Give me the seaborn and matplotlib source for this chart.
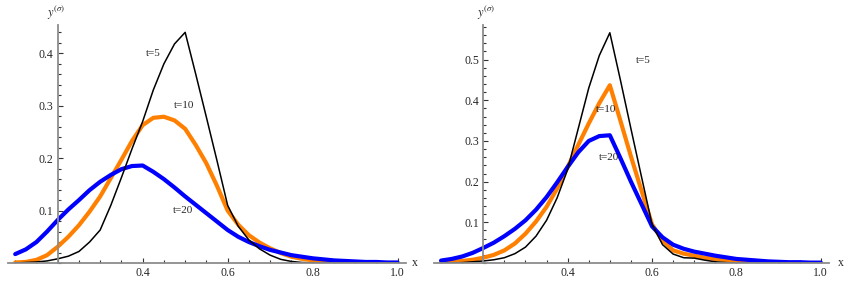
import numpy as np
import pandas as pd
import seaborn as sns
from matplotlib import pyplot as plt
from matplotlib.ticker import FixedLocator, MultipleLocator

# x grid shared by every curve (step 0.025)
x_vals = [0.100, 0.125, 0.150, 0.175, 0.200, 0.225, 0.250, 0.275, 0.300, 0.325,
          0.350, 0.375, 0.400, 0.425, 0.450, 0.475, 0.500, 0.525, 0.550, 0.575,
          0.600, 0.625, 0.650, 0.675, 0.700, 0.725, 0.750, 0.775, 0.800, 0.825,
          0.850, 0.875, 0.900, 0.925, 0.950, 0.975, 1.000]

# left panel
left_t5 = [0.000, 0.001, 0.002, 0.004, 0.008, 0.013, 0.022, 0.040, 0.063, 0.110,
           0.163, 0.218, 0.270, 0.330, 0.380, 0.418, 0.440, 0.360, 0.278, 0.195,
           0.110, 0.070, 0.044, 0.027, 0.015, 0.007, 0.003, 0.001, 0.000, 0.000,
           0.000, 0.000, 0.000, 0.000, 0.000, 0.000, 0.000]
left_t10 = [0.001, 0.002, 0.006, 0.015, 0.031, 0.050, 0.072, 0.098, 0.127, 0.162,
            0.197, 0.233, 0.263, 0.277, 0.279, 0.272, 0.256, 0.225, 0.190, 0.147,
            0.100, 0.073, 0.053, 0.039, 0.028, 0.019, 0.012, 0.008, 0.005, 0.003,
            0.002, 0.001, 0.001, 0.000, 0.000, 0.000, 0.000]
left_t20 = [0.017, 0.026, 0.040, 0.060, 0.082, 0.102, 0.120, 0.139, 0.155, 0.168,
            0.179, 0.185, 0.186, 0.174, 0.160, 0.144, 0.127, 0.111, 0.095, 0.079,
            0.063, 0.050, 0.040, 0.032, 0.025, 0.020, 0.015, 0.012, 0.009, 0.007,
            0.005, 0.004, 0.003, 0.002, 0.002, 0.001, 0.001]

# right panel
right_t5 = [0.000, 0.000, 0.001, 0.003, 0.005, 0.008, 0.013, 0.023, 0.039, 0.066,
            0.105, 0.160, 0.230, 0.330, 0.430, 0.510, 0.566, 0.450, 0.330, 0.212,
            0.095, 0.045, 0.022, 0.013, 0.012, 0.007, 0.003, 0.001, 0.000, 0.000,
            0.000, 0.000, 0.000, 0.000, 0.000, 0.000, 0.000]
right_t10 = [0.002, 0.003, 0.005, 0.008, 0.013, 0.020, 0.031, 0.048, 0.072, 0.102,
             0.138, 0.183, 0.236, 0.290, 0.343, 0.393, 0.437, 0.350, 0.262, 0.178,
             0.095, 0.055, 0.031, 0.023, 0.018, 0.013, 0.010, 0.007, 0.004, 0.003,
             0.002, 0.001, 0.001, 0.000, 0.000, 0.000, 0.000]
right_t20 = [0.006, 0.010, 0.016, 0.025, 0.037, 0.050, 0.066, 0.084, 0.105, 0.131,
             0.162, 0.198, 0.236, 0.272, 0.300, 0.312, 0.314, 0.258, 0.200, 0.145,
             0.090, 0.063, 0.045, 0.035, 0.028, 0.023, 0.018, 0.014, 0.010, 0.008,
             0.006, 0.004, 0.003, 0.002, 0.002, 0.001, 0.001]

series_names = ["t=10", "t=20", "t=5"]   # draw order, black on top
colors = {"t=5": "black", "t=10": "#FF8000", "t=20": "#0000FF"}
widths = {"t=5": 1.1, "t=10": 3.0, "t=20": 3.0}

sns.set_style("white")
plt.rcParams['font.family'] = ['Liberation Serif', 'DejaVu Serif']
plt.rcParams['mathtext.fontset'] = 'stix'

fig = plt.figure(figsize=(8.58, 2.84), dpi=100)
ax1 = fig.add_axes([0.0093, 0.0739, 0.464, 0.838])
ax2 = fig.add_axes([0.5057, 0.0739, 0.4608, 0.838])


def draw_panel(ax, curves, ymax, yticks, labels, ylab_pos, xlab_x):
    n = len(x_vals)
    df = pd.DataFrame({"x": x_vals * 3,
                       "y": curves["t=5"] + curves["t=10"] + curves["t=20"],
                       "t": ["t=5"] * n + ["t=10"] * n + ["t=20"] * n})
    for name in series_names:
        sub = df[df.t == name]
        sns.lineplot(data=sub, x="x", y="y", color=colors[name], lw=widths[name],
                     estimator=None, sort=False, ax=ax, legend=False)

    ax.set_xlim(0.083, 1.02)
    ax.set_ylim(0, ymax)
    ax.set_xlabel("")
    ax.set_ylabel("")

    for s in ["top", "right"]:
        ax.spines[s].set_visible(False)
    ax.spines["left"].set_position(("data", 0.2))
    for s in ["left", "bottom"]:
        ax.spines[s].set_color("#8c8c8c")
        ax.spines[s].set_linewidth(1.3)

    ax.xaxis.set_major_locator(FixedLocator([0.2, 0.4, 0.6, 0.8, 1.0]))
    ax.set_xticklabels(["", "0.4", "0.6", "0.8", "1.0"])
    ax.xaxis.set_minor_locator(MultipleLocator(0.05))
    ax.yaxis.set_major_locator(FixedLocator(yticks))
    ax.set_yticklabels([f"{v:.1f}" for v in yticks])
    ax.yaxis.set_minor_locator(MultipleLocator(0.02))
    ax.tick_params(which="both", direction="in", color="#333333", width=0.8,
                   labelsize=8.5, bottom=True, left=True)
    ax.tick_params(which="major", length=3.5, pad=3)
    ax.tick_params(which="minor", length=2)
    ax.patch.set_alpha(0)

    for txt, (tx, ty) in labels.items():
        ax.text(tx, ty, txt, fontsize=8, ha="center", va="center")

    ax.text(ylab_pos[0], ylab_pos[1], r"$y^{(\sigma)}$", fontsize=9,
            ha="left", va="center", clip_on=False)
    ax.text(xlab_x, 0, "x", fontsize=8.5, ha="center", va="center", clip_on=False)


draw_panel(ax1, {"t=5": left_t5, "t=10": left_t10, "t=20": left_t20},
           0.454, [0.1, 0.2, 0.3, 0.4],
           {"t=5": (0.426, 0.40), "t=10": (0.497, 0.30), "t=20": (0.496, 0.10)},
           (0.175, 0.477), 1.041)
draw_panel(ax2, {"t=5": right_t5, "t=10": right_t10, "t=20": right_t20},
           0.585, [0.1, 0.2, 0.3, 0.4, 0.5],
           {"t=5": (0.579, 0.499), "t=10": (0.490, 0.378), "t=20": (0.498, 0.259)},
           (0.185, 0.614), 1.047)

plt.savefig("out.png", dpi=100)
